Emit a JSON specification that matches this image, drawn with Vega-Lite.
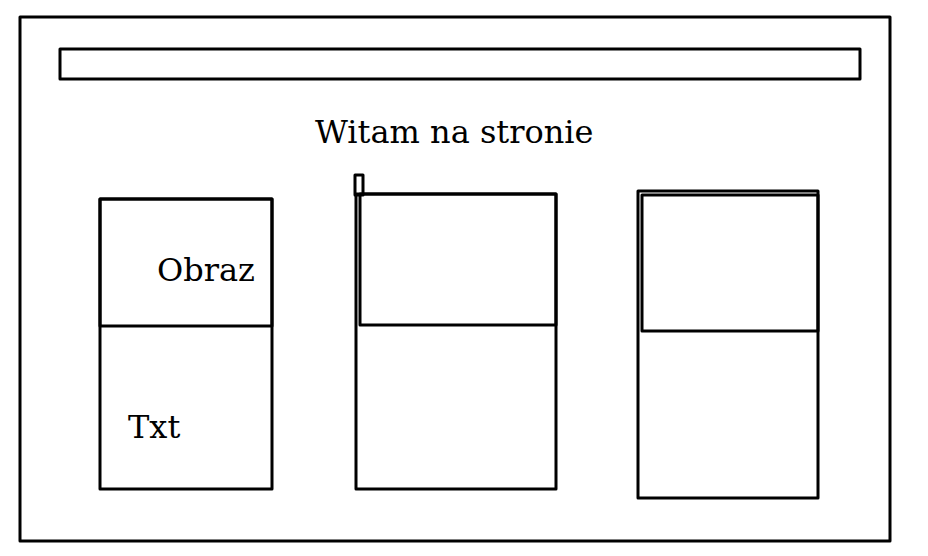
{
  "$schema": "https://vega.github.io/schema/vega-lite/v6.json",
  "width": 928,
  "height": 556,
  "autosize": {"type": "fit", "contains": "padding"},
  "padding": 0,
  "background": "white",
  "config": {"view": {"stroke": null}},
  "datasets": {
    "shapes": [
      {"name": "frame", "x": 20, "x2": 890, "y": 17, "y2": 541},
      {"name": "header", "x": 60, "x2": 860, "y": 49, "y2": 79},
      {"name": "card1", "x": 100, "x2": 272, "y": 199, "y2": 489},
      {"name": "card1img", "x": 100, "x2": 272, "y": 199, "y2": 326},
      {"name": "card2", "x": 356, "x2": 556, "y": 194, "y2": 489},
      {"name": "card2img", "x": 360, "x2": 556, "y": 194, "y2": 325},
      {"name": "card2tab", "x": 355, "x2": 363, "y": 175, "y2": 195},
      {"name": "card3", "x": 638, "x2": 818, "y": 191, "y2": 498},
      {"name": "card3img", "x": 642, "x2": 818, "y": 195, "y2": 331}
    ],
    "labels": [
      {"label": "Witam na stronie", "x": 315, "y": 143},
      {"label": "Obraz", "x": 157, "y": 281},
      {"label": "Txt", "x": 128, "y": 438}
    ]
  },
  "layer": [
    {
      "data": {"name": "shapes"},
      "mark": {"type": "rect", "fill": "transparent", "stroke": "black", "strokeWidth": 3, "strokeJoin": "round"},
      "encoding": {
        "x": {"field": "x", "type": "quantitative", "scale": {"domain": [0, 928], "nice": false, "zero": false}, "axis": null},
        "x2": {"field": "x2"},
        "y": {"field": "y", "type": "quantitative", "scale": {"domain": [0, 556], "nice": false, "zero": false, "reverse": true}, "axis": null},
        "y2": {"field": "y2"}
      }
    },
    {
      "data": {"name": "labels"},
      "mark": {"type": "text", "font": "DejaVu Serif", "fontSize": 32, "align": "left", "baseline": "alphabetic", "color": "black"},
      "encoding": {
        "x": {"field": "x", "type": "quantitative", "scale": {"domain": [0, 928], "nice": false, "zero": false}, "axis": null},
        "y": {"field": "y", "type": "quantitative", "scale": {"domain": [0, 556], "nice": false, "zero": false, "reverse": true}, "axis": null},
        "text": {"field": "label"}
      }
    }
  ]
}
